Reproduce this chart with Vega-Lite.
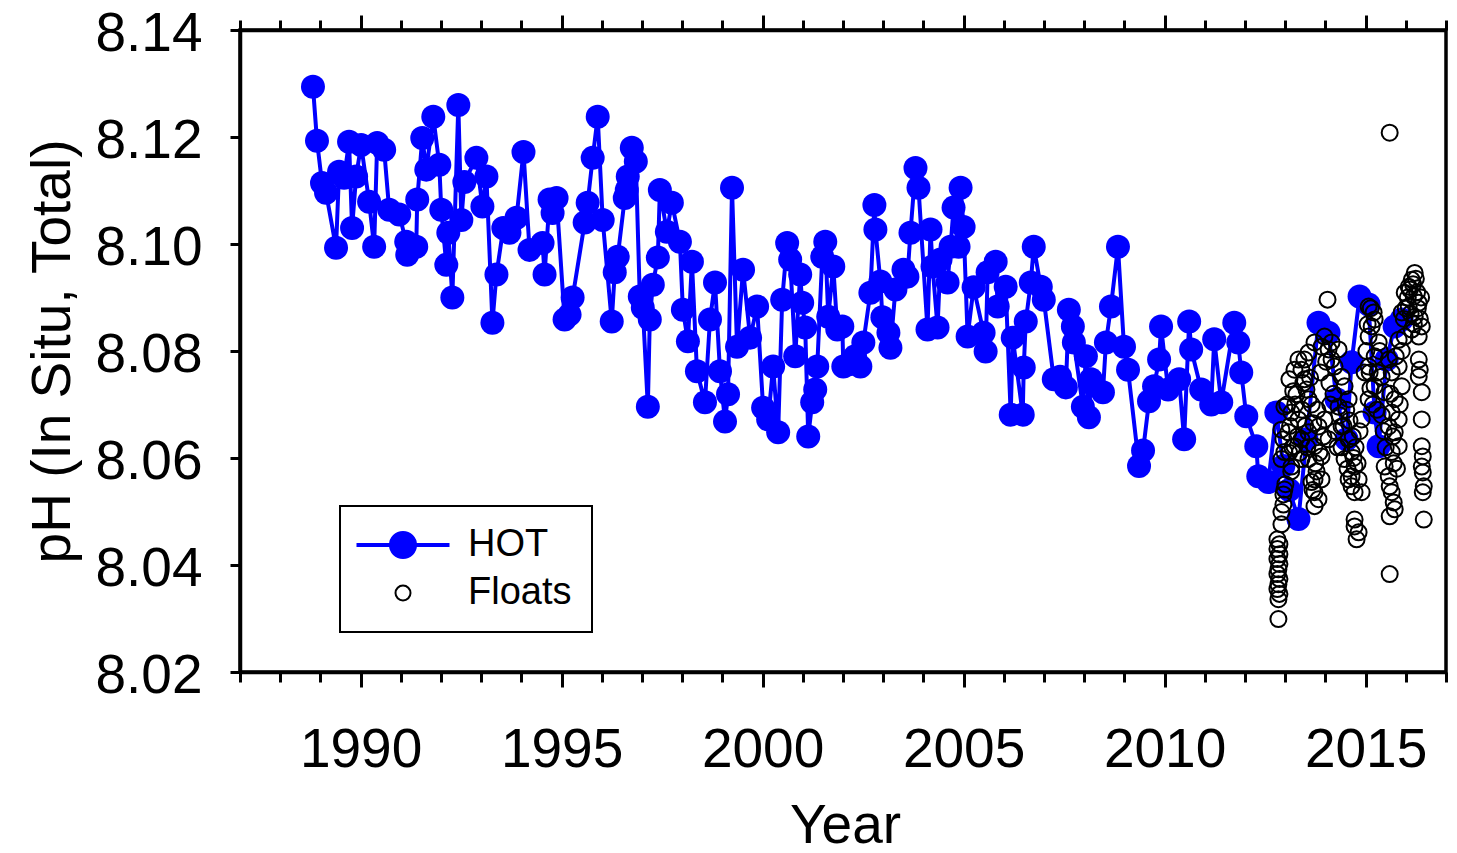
{
  "$schema": "https://vega.github.io/schema/vega-lite/v6.json",
  "width": 1206,
  "height": 642,
  "autosize": {"type": "none"},
  "padding": {"left": 240, "top": 30, "right": 11, "bottom": 181},
  "background": "white",
  "config": {
    "view": {"stroke": "black", "strokeWidth": 3.5},
    "axis": {"grid": false, "domainColor": "black", "domainWidth": 3.5, "tickColor": "black", "tickWidth": 3, "labelColor": "black", "titleColor": "black", "labelFont": "Liberation Sans", "titleFont": "Liberation Sans", "labelFontSize": 55, "titleFontSize": 55, "titleFontWeight": "normal"},
    "legend": {"strokeWidth": 2}
  },
  "datasets": {
    "hot": [
      {"series":"HOT","year":1988.815,"pH":8.1294},{"series":"HOT","year":1988.915,"pH":8.1193},{"series":"HOT","year":1989.040,"pH":8.1114},{"series":"HOT","year":1989.140,"pH":8.1096},{"series":"HOT","year":1989.389,"pH":8.0993},{"series":"HOT","year":1989.464,"pH":8.1135},{"series":"HOT","year":1989.589,"pH":8.1124},{"series":"HOT","year":1989.713,"pH":8.1191},{"series":"HOT","year":1989.788,"pH":8.1030},{"series":"HOT","year":1989.888,"pH":8.1126},{"series":"HOT","year":1990.013,"pH":8.1185},{"series":"HOT","year":1990.212,"pH":8.1079},{"series":"HOT","year":1990.337,"pH":8.0995},{"series":"HOT","year":1990.412,"pH":8.1189},{"series":"HOT","year":1990.586,"pH":8.1176},{"series":"HOT","year":1990.711,"pH":8.1064},{"series":"HOT","year":1990.960,"pH":8.1055},{"series":"HOT","year":1991.135,"pH":8.1004},{"series":"HOT","year":1991.160,"pH":8.0980},{"series":"HOT","year":1991.384,"pH":8.0995},{"series":"HOT","year":1991.409,"pH":8.1083},{"series":"HOT","year":1991.534,"pH":8.1198},{"series":"HOT","year":1991.634,"pH":8.1139},{"series":"HOT","year":1991.808,"pH":8.1238},{"series":"HOT","year":1991.958,"pH":8.1148},{"series":"HOT","year":1992.007,"pH":8.1064},{"series":"HOT","year":1992.132,"pH":8.0961},{"series":"HOT","year":1992.182,"pH":8.1021},{"series":"HOT","year":1992.282,"pH":8.0900},{"series":"HOT","year":1992.431,"pH":8.1260},{"series":"HOT","year":1992.506,"pH":8.1045},{"series":"HOT","year":1992.581,"pH":8.1116},{"series":"HOT","year":1992.880,"pH":8.1161},{"series":"HOT","year":1993.030,"pH":8.1070},{"series":"HOT","year":1993.130,"pH":8.1126},{"series":"HOT","year":1993.279,"pH":8.0853},{"series":"HOT","year":1993.379,"pH":8.0943},{"series":"HOT","year":1993.550,"pH":8.1030},{"series":"HOT","year":1993.703,"pH":8.1021},{"series":"HOT","year":1993.878,"pH":8.1049},{"series":"HOT","year":1994.052,"pH":8.1172},{"series":"HOT","year":1994.202,"pH":8.0989},{"series":"HOT","year":1994.526,"pH":8.1002},{"series":"HOT","year":1994.576,"pH":8.0943},{"series":"HOT","year":1994.701,"pH":8.1083},{"series":"HOT","year":1994.776,"pH":8.1058},{"series":"HOT","year":1994.875,"pH":8.1086},{"series":"HOT","year":1995.074,"pH":8.0859},{"series":"HOT","year":1995.199,"pH":8.0868},{"series":"HOT","year":1995.274,"pH":8.0900},{"series":"HOT","year":1995.574,"pH":8.1040},{"series":"HOT","year":1995.648,"pH":8.1077},{"series":"HOT","year":1995.773,"pH":8.1161},{"series":"HOT","year":1995.898,"pH":8.1238},{"series":"HOT","year":1996.022,"pH":8.1045},{"series":"HOT","year":1996.247,"pH":8.0855},{"series":"HOT","year":1996.322,"pH":8.0947},{"series":"HOT","year":1996.396,"pH":8.0976},{"series":"HOT","year":1996.571,"pH":8.1086},{"series":"HOT","year":1996.621,"pH":8.1101},{"series":"HOT","year":1996.646,"pH":8.1126},{"series":"HOT","year":1996.746,"pH":8.1180},{"series":"HOT","year":1996.846,"pH":8.1154},{"series":"HOT","year":1996.945,"pH":8.0902},{"series":"HOT","year":1997.020,"pH":8.0881},{"series":"HOT","year":1997.145,"pH":8.0696},{"series":"HOT","year":1997.194,"pH":8.0859},{"series":"HOT","year":1997.269,"pH":8.0924},{"series":"HOT","year":1997.394,"pH":8.0975},{"series":"HOT","year":1997.444,"pH":8.1101},{"series":"HOT","year":1997.618,"pH":8.1023},{"series":"HOT","year":1997.743,"pH":8.1077},{"series":"HOT","year":1997.943,"pH":8.1004},{"series":"HOT","year":1998.017,"pH":8.0877},{"series":"HOT","year":1998.142,"pH":8.0818},{"series":"HOT","year":1998.242,"pH":8.0967},{"series":"HOT","year":1998.367,"pH":8.0762},{"series":"HOT","year":1998.566,"pH":8.0704},{"series":"HOT","year":1998.691,"pH":8.0859},{"series":"HOT","year":1998.816,"pH":8.0928},{"series":"HOT","year":1998.940,"pH":8.0762},{"series":"HOT","year":1999.065,"pH":8.0668},{"series":"HOT","year":1999.140,"pH":8.0719},{"series":"HOT","year":1999.239,"pH":8.1105},{"series":"HOT","year":1999.364,"pH":8.0808},{"series":"HOT","year":1999.514,"pH":8.0952},{"series":"HOT","year":1999.689,"pH":8.0825},{"series":"HOT","year":1999.863,"pH":8.0883},{"series":"HOT","year":2000.013,"pH":8.0694},{"series":"HOT","year":2000.138,"pH":8.0672},{"series":"HOT","year":2000.262,"pH":8.0771},{"series":"HOT","year":2000.387,"pH":8.0648},{"series":"HOT","year":2000.487,"pH":8.0896},{"series":"HOT","year":2000.611,"pH":8.1002},{"series":"HOT","year":2000.686,"pH":8.0971},{"series":"HOT","year":2000.811,"pH":8.0790},{"series":"HOT","year":2000.935,"pH":8.0943},{"series":"HOT","year":2000.985,"pH":8.0890},{"series":"HOT","year":2001.060,"pH":8.0844},{"series":"HOT","year":2001.135,"pH":8.0640},{"series":"HOT","year":2001.234,"pH":8.0704},{"series":"HOT","year":2001.309,"pH":8.0728},{"series":"HOT","year":2001.359,"pH":8.0771},{"series":"HOT","year":2001.484,"pH":8.0976},{"series":"HOT","year":2001.559,"pH":8.1004},{"series":"HOT","year":2001.633,"pH":8.0864},{"series":"HOT","year":2001.758,"pH":8.0958},{"series":"HOT","year":2001.858,"pH":8.0840},{"series":"HOT","year":2001.983,"pH":8.0846},{"series":"HOT","year":2002.008,"pH":8.0771},{"series":"HOT","year":2002.150,"pH":8.0775},{"series":"HOT","year":2002.300,"pH":8.0790},{"series":"HOT","year":2002.432,"pH":8.0771},{"series":"HOT","year":2002.506,"pH":8.0816},{"series":"HOT","year":2002.681,"pH":8.0909},{"series":"HOT","year":2002.781,"pH":8.1073},{"series":"HOT","year":2002.806,"pH":8.1027},{"series":"HOT","year":2002.930,"pH":8.0930},{"series":"HOT","year":2002.980,"pH":8.0863},{"series":"HOT","year":2003.130,"pH":8.0834},{"series":"HOT","year":2003.180,"pH":8.0806},{"series":"HOT","year":2003.304,"pH":8.0915},{"series":"HOT","year":2003.504,"pH":8.0952},{"series":"HOT","year":2003.603,"pH":8.0939},{"series":"HOT","year":2003.678,"pH":8.1021},{"series":"HOT","year":2003.803,"pH":8.1142},{"series":"HOT","year":2003.878,"pH":8.1105},{"series":"HOT","year":2004.102,"pH":8.0840},{"series":"HOT","year":2004.177,"pH":8.1027},{"series":"HOT","year":2004.227,"pH":8.0958},{"series":"HOT","year":2004.352,"pH":8.0844},{"series":"HOT","year":2004.426,"pH":8.0971},{"series":"HOT","year":2004.601,"pH":8.0928},{"series":"HOT","year":2004.676,"pH":8.0995},{"series":"HOT","year":2004.750,"pH":8.1068},{"series":"HOT","year":2004.875,"pH":8.0995},{"series":"HOT","year":2004.925,"pH":8.1105},{"series":"HOT","year":2005.000,"pH":8.1032},{"series":"HOT","year":2005.100,"pH":8.0827},{"series":"HOT","year":2005.249,"pH":8.0919},{"series":"HOT","year":2005.498,"pH":8.0834},{"series":"HOT","year":2005.548,"pH":8.0799},{"series":"HOT","year":2005.598,"pH":8.0947},{"series":"HOT","year":2005.798,"pH":8.0967},{"series":"HOT","year":2005.848,"pH":8.0883},{"series":"HOT","year":2006.047,"pH":8.0920},{"series":"HOT","year":2006.172,"pH":8.0681},{"series":"HOT","year":2006.222,"pH":8.0825},{"series":"HOT","year":2006.471,"pH":8.0681},{"series":"HOT","year":2006.496,"pH":8.0769},{"series":"HOT","year":2006.546,"pH":8.0855},{"series":"HOT","year":2006.671,"pH":8.0928},{"series":"HOT","year":2006.745,"pH":8.0995},{"series":"HOT","year":2006.920,"pH":8.0920},{"series":"HOT","year":2006.995,"pH":8.0896},{"series":"HOT","year":2007.244,"pH":8.0747},{"series":"HOT","year":2007.400,"pH":8.0752},{"series":"HOT","year":2007.543,"pH":8.0732},{"series":"HOT","year":2007.618,"pH":8.0877},{"series":"HOT","year":2007.718,"pH":8.0846},{"series":"HOT","year":2007.743,"pH":8.0816},{"series":"HOT","year":2007.967,"pH":8.0696},{"series":"HOT","year":2008.042,"pH":8.0790},{"series":"HOT","year":2008.117,"pH":8.0676},{"series":"HOT","year":2008.167,"pH":8.0747},{"series":"HOT","year":2008.466,"pH":8.0723},{"series":"HOT","year":2008.541,"pH":8.0816},{"series":"HOT","year":2008.666,"pH":8.0883},{"series":"HOT","year":2008.840,"pH":8.0995},{"series":"HOT","year":2008.990,"pH":8.0808},{"series":"HOT","year":2009.090,"pH":8.0765},{"series":"HOT","year":2009.364,"pH":8.0585},{"series":"HOT","year":2009.464,"pH":8.0614},{"series":"HOT","year":2009.613,"pH":8.0706},{"series":"HOT","year":2009.738,"pH":8.0734},{"series":"HOT","year":2009.863,"pH":8.0784},{"series":"HOT","year":2009.912,"pH":8.0846},{"series":"HOT","year":2010.087,"pH":8.0728},{"series":"HOT","year":2010.361,"pH":8.0747},{"series":"HOT","year":2010.486,"pH":8.0635},{"series":"HOT","year":2010.611,"pH":8.0855},{"series":"HOT","year":2010.661,"pH":8.0803},{"series":"HOT","year":2010.910,"pH":8.0728},{"series":"HOT","year":2011.160,"pH":8.0700},{"series":"HOT","year":2011.234,"pH":8.0822},{"series":"HOT","year":2011.409,"pH":8.0704},{"series":"HOT","year":2011.733,"pH":8.0853},{"series":"HOT","year":2011.833,"pH":8.0816},{"series":"HOT","year":2011.907,"pH":8.0760},{"series":"HOT","year":2012.032,"pH":8.0678},{"series":"HOT","year":2012.281,"pH":8.0622},{"series":"HOT","year":2012.331,"pH":8.0566},{"series":"HOT","year":2012.580,"pH":8.0555},{"series":"HOT","year":2012.780,"pH":8.0685},{"series":"HOT","year":2012.955,"pH":8.0585},{"series":"HOT","year":2013.100,"pH":8.0540},{"series":"HOT","year":2013.329,"pH":8.0486},{"series":"HOT","year":2013.528,"pH":8.0635},{"series":"HOT","year":2013.828,"pH":8.0853},{"series":"HOT","year":2014.077,"pH":8.0834},{"series":"HOT","year":2014.277,"pH":8.0710},{"series":"HOT","year":2014.526,"pH":8.0635},{"series":"HOT","year":2014.651,"pH":8.0779},{"series":"HOT","year":2014.850,"pH":8.0902},{"series":"HOT","year":2015.075,"pH":8.0887},{"series":"HOT","year":2015.224,"pH":8.0685},{"series":"HOT","year":2015.324,"pH":8.0622},{"series":"HOT","year":2015.523,"pH":8.0784},{"series":"HOT","year":2015.722,"pH":8.0846},{"series":"HOT","year":2015.897,"pH":8.0859}
    ],
    "floats": [
      {"series":"Floats","year":2012.806,"pH":8.0448},{"series":"Floats","year":2012.856,"pH":8.0439},{"series":"Floats","year":2012.806,"pH":8.0430},{"series":"Floats","year":2012.856,"pH":8.0420},{"series":"Floats","year":2012.806,"pH":8.0411},{"series":"Floats","year":2012.856,"pH":8.0402},{"series":"Floats","year":2012.831,"pH":8.0392},{"series":"Floats","year":2012.806,"pH":8.0383},{"series":"Floats","year":2012.856,"pH":8.0374},{"series":"Floats","year":2012.831,"pH":8.0364},{"series":"Floats","year":2012.806,"pH":8.0355},{"series":"Floats","year":2012.856,"pH":8.0346},{"series":"Floats","year":2012.831,"pH":8.0336},{"series":"Floats","year":2012.831,"pH":8.0299},
      {"series":"Floats","year":2012.906,"pH":8.0476},{"series":"Floats","year":2012.906,"pH":8.0499},{"series":"Floats","year":2012.955,"pH":8.0513},{"series":"Floats","year":2012.955,"pH":8.0532},{"series":"Floats","year":2012.980,"pH":8.0541},{"series":"Floats","year":2013.005,"pH":8.0551},{"series":"Floats","year":2012.906,"pH":8.0598},{"series":"Floats","year":2012.980,"pH":8.0611},{"series":"Floats","year":2012.955,"pH":8.0635},{"series":"Floats","year":2012.906,"pH":8.0653},{"series":"Floats","year":2012.980,"pH":8.0696},
      {"series":"Floats","year":2013.080,"pH":8.0648},{"series":"Floats","year":2013.105,"pH":8.0747},{"series":"Floats","year":2013.155,"pH":8.0685},{"series":"Floats","year":2013.155,"pH":8.0584},{"series":"Floats","year":2013.230,"pH":8.0622},{"series":"Floats","year":2013.230,"pH":8.0765},{"series":"Floats","year":2013.279,"pH":8.0719},{"series":"Floats","year":2013.329,"pH":8.0784},{"series":"Floats","year":2013.329,"pH":8.0672},{"series":"Floats","year":2013.404,"pH":8.0635},{"series":"Floats","year":2013.404,"pH":8.0598},{"series":"Floats","year":2013.404,"pH":8.0765},{"series":"Floats","year":2013.479,"pH":8.0784},{"series":"Floats","year":2013.479,"pH":8.0747},{"series":"Floats","year":2013.529,"pH":8.0728},{"series":"Floats","year":2013.579,"pH":8.0797},{"series":"Floats","year":2013.579,"pH":8.0710},{"series":"Floats","year":2013.579,"pH":8.0648},{"series":"Floats","year":2013.579,"pH":8.0598},{"series":"Floats","year":2013.654,"pH":8.0555},{"series":"Floats","year":2013.729,"pH":8.0816},{"series":"Floats","year":2013.729,"pH":8.0622},{"series":"Floats","year":2013.729,"pH":8.0560},{"series":"Floats","year":2013.729,"pH":8.0536},{"series":"Floats","year":2013.729,"pH":8.0510},{"series":"Floats","year":2013.828,"pH":8.0659},{"series":"Floats","year":2013.828,"pH":8.0523},{"series":"Floats","year":2013.903,"pH":8.0808},{"series":"Floats","year":2013.903,"pH":8.0603},{"series":"Floats","year":2013.903,"pH":8.0560},{"series":"Floats","year":2013.978,"pH":8.0827},{"series":"Floats","year":2013.978,"pH":8.0672},{"series":"Floats","year":2014.053,"pH":8.0896},{"series":"Floats","year":2014.078,"pH":8.0803},{"series":"Floats","year":2014.078,"pH":8.0635},{"series":"Floats","year":2014.153,"pH":8.0816},{"series":"Floats","year":2014.153,"pH":8.0784},{"series":"Floats","year":2014.227,"pH":8.0771},{"series":"Floats","year":2014.327,"pH":8.0803},{"series":"Floats","year":2014.327,"pH":8.0696},{"series":"Floats","year":2014.402,"pH":8.0752},{"series":"Floats","year":2014.402,"pH":8.0659},{"series":"Floats","year":2014.477,"pH":8.0734},{"series":"Floats","year":2014.477,"pH":8.0598},{"series":"Floats","year":2014.577,"pH":8.0710},{"series":"Floats","year":2014.577,"pH":8.0635},{"series":"Floats","year":2014.577,"pH":8.0560},{"series":"Floats","year":2014.651,"pH":8.0611},{"series":"Floats","year":2014.651,"pH":8.0566},{"series":"Floats","year":2014.651,"pH":8.0547},{"series":"Floats","year":2014.726,"pH":8.0584},{"series":"Floats","year":2014.726,"pH":8.0536},{"series":"Floats","year":2014.726,"pH":8.0485},{"series":"Floats","year":2014.726,"pH":8.0472},{"series":"Floats","year":2014.776,"pH":8.0448},{"series":"Floats","year":2014.826,"pH":8.0560},{"series":"Floats","year":2014.826,"pH":8.0461},{"series":"Floats","year":2014.901,"pH":8.0536},{"series":"Floats","year":2014.901,"pH":8.0672},{"series":"Floats","year":2014.976,"pH":8.0760},
      {"series":"Floats","year":2015.075,"pH":8.0883},{"series":"Floats","year":2015.075,"pH":8.0827},{"series":"Floats","year":2015.075,"pH":8.0771},{"series":"Floats","year":2015.075,"pH":8.0710},{"series":"Floats","year":2015.150,"pH":8.0846},{"series":"Floats","year":2015.200,"pH":8.0872},{"series":"Floats","year":2015.225,"pH":8.0859},{"series":"Floats","year":2015.225,"pH":8.0790},{"series":"Floats","year":2015.225,"pH":8.0734},{"series":"Floats","year":2015.325,"pH":8.0816},{"series":"Floats","year":2015.399,"pH":8.0752},{"series":"Floats","year":2015.474,"pH":8.0723},{"series":"Floats","year":2015.474,"pH":8.0584},{"series":"Floats","year":2015.574,"pH":8.0784},{"series":"Floats","year":2015.574,"pH":8.0659},{"series":"Floats","year":2015.574,"pH":8.0566},{"series":"Floats","year":2015.599,"pH":8.0547},{"series":"Floats","year":2015.599,"pH":8.0491},{"series":"Floats","year":2015.599,"pH":8.1208},{"series":"Floats","year":2015.599,"pH":8.0383},{"series":"Floats","year":2015.649,"pH":8.0760},{"series":"Floats","year":2015.649,"pH":8.0685},{"series":"Floats","year":2015.649,"pH":8.0611},{"series":"Floats","year":2015.649,"pH":8.0536},{"series":"Floats","year":2015.699,"pH":8.0517},{"series":"Floats","year":2015.724,"pH":8.0710},{"series":"Floats","year":2015.724,"pH":8.0648},{"series":"Floats","year":2015.724,"pH":8.0504},{"series":"Floats","year":2015.823,"pH":8.0821},{"series":"Floats","year":2015.823,"pH":8.0771},{"series":"Floats","year":2015.823,"pH":8.0672},{"series":"Floats","year":2015.823,"pH":8.0622},{"series":"Floats","year":2015.898,"pH":8.0872},{"series":"Floats","year":2015.898,"pH":8.0734},{"series":"Floats","year":2015.973,"pH":8.0909},{"series":"Floats","year":2015.973,"pH":8.0827},{"series":"Floats","year":2016.073,"pH":8.0920},{"series":"Floats","year":2016.073,"pH":8.0883},{"series":"Floats","year":2016.148,"pH":8.0933},{"series":"Floats","year":2016.148,"pH":8.0840},{"series":"Floats","year":2016.197,"pH":8.0902},{"series":"Floats","year":2016.222,"pH":8.0946},{"series":"Floats","year":2016.222,"pH":8.0864},{"series":"Floats","year":2016.322,"pH":8.0890},{"series":"Floats","year":2016.322,"pH":8.0827},{"series":"Floats","year":2016.397,"pH":8.0846},{"series":"Floats","year":2016.322,"pH":8.0784},{"series":"Floats","year":2016.347,"pH":8.0765},{"series":"Floats","year":2016.322,"pH":8.0752},{"series":"Floats","year":2016.397,"pH":8.0723},{"series":"Floats","year":2016.397,"pH":8.0672},{"series":"Floats","year":2016.397,"pH":8.0622},{"series":"Floats","year":2016.422,"pH":8.0603},{"series":"Floats","year":2016.397,"pH":8.0584},{"series":"Floats","year":2016.422,"pH":8.0573},{"series":"Floats","year":2016.447,"pH":8.0547},{"series":"Floats","year":2016.422,"pH":8.0536},{"series":"Floats","year":2016.447,"pH":8.0485},
      {"series":"Floats","year":2013.050,"pH":8.0700},{"series":"Floats","year":2013.120,"pH":8.0660},{"series":"Floats","year":2013.180,"pH":8.0620},{"series":"Floats","year":2013.250,"pH":8.0700},{"series":"Floats","year":2013.300,"pH":8.0640},{"series":"Floats","year":2013.360,"pH":8.0610},{"series":"Floats","year":2013.420,"pH":8.0690},{"series":"Floats","year":2013.450,"pH":8.0740},{"series":"Floats","year":2013.200,"pH":8.0725},{"series":"Floats","year":2013.100,"pH":8.0610},{"series":"Floats","year":2013.150,"pH":8.0575},{"series":"Floats","year":2013.500,"pH":8.0660},{"series":"Floats","year":2013.550,"pH":8.0620},
      {"series":"Floats","year":2013.620,"pH":8.0750},{"series":"Floats","year":2013.660,"pH":8.0700},{"series":"Floats","year":2013.700,"pH":8.0665},{"series":"Floats","year":2013.750,"pH":8.0590},{"series":"Floats","year":2013.800,"pH":8.0690},{"series":"Floats","year":2013.850,"pH":8.0610},{"series":"Floats","year":2013.880,"pH":8.0760},{"series":"Floats","year":2013.950,"pH":8.0640},{"series":"Floats","year":2013.680,"pH":8.0540},{"series":"Floats","year":2013.780,"pH":8.0575},
      {"series":"Floats","year":2014.020,"pH":8.0780},{"series":"Floats","year":2014.100,"pH":8.0740},{"series":"Floats","year":2014.200,"pH":8.0720},{"series":"Floats","year":2014.250,"pH":8.0650},{"series":"Floats","year":2014.300,"pH":8.0620},{"series":"Floats","year":2014.350,"pH":8.0680},{"series":"Floats","year":2014.120,"pH":8.0700},{"series":"Floats","year":2014.400,"pH":8.0620},{"series":"Floats","year":2014.450,"pH":8.0660},
      {"series":"Floats","year":2014.520,"pH":8.0690},{"series":"Floats","year":2014.600,"pH":8.0670},{"series":"Floats","year":2014.680,"pH":8.0640},{"series":"Floats","year":2014.700,"pH":8.0600},{"series":"Floats","year":2014.750,"pH":8.0620},{"series":"Floats","year":2014.800,"pH":8.0590},{"series":"Floats","year":2014.550,"pH":8.0580},{"series":"Floats","year":2014.850,"pH":8.0650},
      {"series":"Floats","year":2015.020,"pH":8.0800},{"series":"Floats","year":2015.100,"pH":8.0760},{"series":"Floats","year":2015.120,"pH":8.0730},{"series":"Floats","year":2015.180,"pH":8.0700},{"series":"Floats","year":2015.280,"pH":8.0690},{"series":"Floats","year":2015.300,"pH":8.0760},{"series":"Floats","year":2015.350,"pH":8.0800},{"series":"Floats","year":2015.400,"pH":8.0680},{"series":"Floats","year":2015.450,"pH":8.0650},{"series":"Floats","year":2015.500,"pH":8.0620},{"series":"Floats","year":2015.050,"pH":8.0850},{"series":"Floats","year":2015.130,"pH":8.0880},
      {"series":"Floats","year":2015.620,"pH":8.0720},{"series":"Floats","year":2015.680,"pH":8.0640},{"series":"Floats","year":2015.750,"pH":8.0790},{"series":"Floats","year":2015.780,"pH":8.0580},{"series":"Floats","year":2015.850,"pH":8.0700},{"series":"Floats","year":2015.900,"pH":8.0800},{"series":"Floats","year":2015.950,"pH":8.0860},{"series":"Floats","year":2015.700,"pH":8.0590},
      {"series":"Floats","year":2016.000,"pH":8.0880},{"series":"Floats","year":2016.050,"pH":8.0900},{"series":"Floats","year":2016.100,"pH":8.0915},{"series":"Floats","year":2016.120,"pH":8.0870},{"series":"Floats","year":2016.180,"pH":8.0925},{"series":"Floats","year":2016.250,"pH":8.0935},{"series":"Floats","year":2016.280,"pH":8.0910},{"series":"Floats","year":2016.300,"pH":8.0880},{"series":"Floats","year":2016.350,"pH":8.0860},{"series":"Floats","year":2016.200,"pH":8.0850},{"series":"Floats","year":2016.380,"pH":8.0900}
    ]
  },
  "layer": [
    {
      "data": {"name": "hot"},
      "mark": {"type": "line", "color": "#0000ff", "strokeWidth": 4},
      "encoding": {
        "x": {"field": "year", "type": "quantitative", "scale": {"domain": [1987, 2017], "nice": false, "zero": false},
          "axis": {"orient": "bottom", "values": [1987,1988,1989,1990,1991,1992,1993,1994,1995,1996,1997,1998,1999,2000,2001,2002,2003,2004,2005,2006,2007,2008,2009,2010,2011,2012,2013,2014,2015,2016,2017],
            "format": "d", "labelExpr": "datum.value % 5 === 0 ? datum.label : ''", "labelFlush": false, "labelOverlap": false,
            "tickSize": {"condition": {"test": "datum.value % 5 === 0", "value": 15}, "value": 10},
            "labelPadding": 36, "title": "Year", "titleX": 605, "titleY": 170, "titleAlign": "center", "titleBaseline": "alphabetic"}},
        "y": {"field": "pH", "type": "quantitative", "scale": {"domain": [8.02, 8.14], "nice": false, "zero": false},
          "axis": {"orient": "left", "values": [8.02,8.04,8.06,8.08,8.1,8.12,8.14], "format": ".2f", "tickSize": 10, "labelPadding": 28, "labelOffset": 3, "labelFlush": false, "labelOverlap": false,
            "title": "pH (In Situ, Total)", "titleX": -171, "titleY": 321, "titleAngle": -90, "titleAlign": "center", "titleBaseline": "alphabetic"}}
      }
    },
    {
      "data": {"name": "hot"},
      "mark": {"type": "point", "shape": "circle", "filled": true, "size": 576, "opacity": 1},
      "encoding": {
        "x": {"field": "year", "type": "quantitative", "scale": {"domain": [1987, 2017], "nice": false, "zero": false},
          "axis": {"orient": "top", "values": [1987,1988,1989,1990,1991,1992,1993,1994,1995,1996,1997,1998,1999,2000,2001,2002,2003,2004,2005,2006,2007,2008,2009,2010,2011,2012,2013,2014,2015,2016,2017],
            "labels": false, "title": null, "tickSize": {"condition": {"test": "datum.value % 5 === 0", "value": 15}, "value": 10}}},
        "y": {"field": "pH", "type": "quantitative", "scale": {"domain": [8.02, 8.14], "nice": false, "zero": false},
          "axis": {"orient": "left", "values": [8.02,8.04,8.06,8.08,8.1,8.12,8.14], "format": ".2f", "tickSize": 10, "labelPadding": 28, "labelOffset": 3, "labelFlush": false, "labelOverlap": false,
            "title": "pH (In Situ, Total)", "titleX": -171, "titleY": 321, "titleAngle": -90, "titleAlign": "center", "titleBaseline": "alphabetic"}},
        "fill": {"field": "series", "type": "nominal", "scale": {"domain": ["HOT", "Floats"], "range": ["#0000ff", "transparent"]},
          "legend": {"orient": "none", "legendX": 100, "legendY": 476, "title": null, "direction": "vertical",
            "strokeColor": "black", "fillColor": "white", "padding": 20,
            "symbolSize": 225, "symbolOffset": 24, "labelOffset": 46, "rowPadding": 9,
            "labelFont": "Liberation Sans", "labelFontSize": 38, "labelColor": "black"}}
      }
    },
    {
      "data": {"name": "floats"},
      "mark": {"type": "point", "filled": false, "size": 256, "opacity": 1},
      "encoding": {
        "x": {"field": "year", "type": "quantitative", "scale": {"domain": [1987, 2017], "nice": false, "zero": false}, "axis": null},
        "y": {"field": "pH", "type": "quantitative", "scale": {"domain": [8.02, 8.14], "nice": false, "zero": false},
          "axis": {"orient": "left", "values": [8.02,8.04,8.06,8.08,8.1,8.12,8.14], "format": ".2f", "tickSize": 10, "labelPadding": 28, "labelOffset": 3, "labelFlush": false, "labelOverlap": false,
            "title": "pH (In Situ, Total)", "titleX": -171, "titleY": 321, "titleAngle": -90, "titleAlign": "center", "titleBaseline": "alphabetic"}},
        "stroke": {"field": "series", "type": "nominal", "scale": {"domain": ["HOT", "Floats"], "range": ["#0000ff", "#000000"]},
          "legend": {"orient": "none", "legendX": 100, "legendY": 476, "title": null, "direction": "vertical",
            "strokeColor": "black", "fillColor": "white", "padding": 20,
            "symbolSize": 225, "symbolOffset": 24, "labelOffset": 46, "rowPadding": 9,
            "labelFont": "Liberation Sans", "labelFontSize": 38, "labelColor": "black"}},
        "shape": {"field": "series", "type": "nominal", "scale": {"domain": ["HOT", "Floats"], "range": ["M-6.2,0L6.2,0M-1.6,0A1.6,1.6,0,1,1,1.6,0A1.6,1.6,0,1,1,-1.6,0Z", "circle"]},
          "legend": {"orient": "none", "legendX": 100, "legendY": 476, "title": null, "direction": "vertical",
            "strokeColor": "black", "fillColor": "white", "padding": 20,
            "symbolSize": 225, "symbolOffset": 24, "labelOffset": 46, "rowPadding": 9,
            "labelFont": "Liberation Sans", "labelFontSize": 38, "labelColor": "black"}},
        "strokeWidth": {"field": "series", "type": "ordinal", "scale": {"domain": ["HOT", "Floats"], "range": [4, 2]},
          "legend": {"orient": "none", "legendX": 100, "legendY": 476, "title": null, "direction": "vertical",
            "strokeColor": "black", "fillColor": "white", "padding": 20,
            "symbolSize": 225, "symbolOffset": 24, "labelOffset": 46, "rowPadding": 9,
            "labelFont": "Liberation Sans", "labelFontSize": 38, "labelColor": "black"}}
      }
    }
  ],
  "resolve": {"axis": {"x": "independent"}}
}
